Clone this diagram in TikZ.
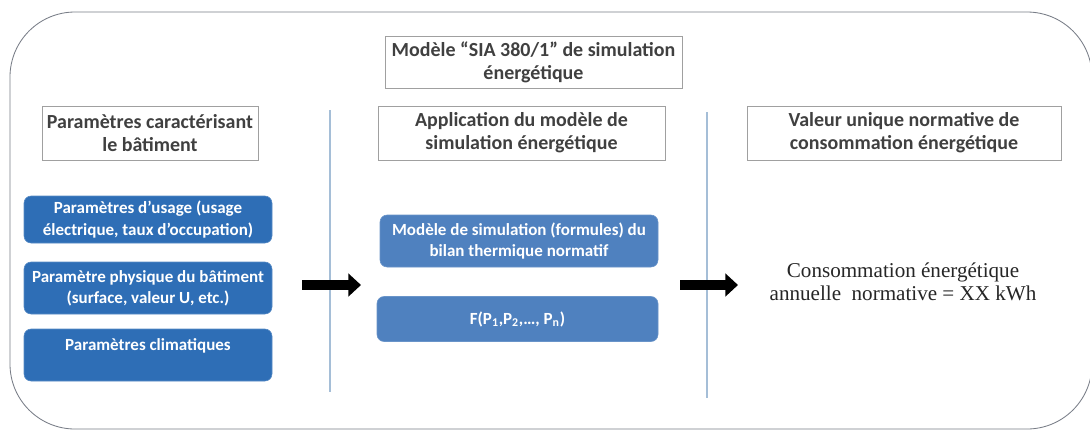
\documentclass[tikz,border=0pt]{standalone}
\usepackage{fontspec}
\setmainfont{Carlito}
\newfontfamily\resfont{Liberation Serif}
\usetikzlibrary{arrows.meta}

\definecolor{frameg}{RGB}{120,125,135}
\definecolor{hdrline}{RGB}{160,160,160}
\definecolor{hdrtext}{RGB}{64,64,64}
\definecolor{inblue}{RGB}{46,110,182}
\definecolor{mdblue}{RGB}{79,129,191}
\definecolor{sepline}{RGB}{165,190,215}

\tikzset{
  hdr/.style={draw=hdrline, line width=0.6pt, fill=white, text=hdrtext, align=center,
    font=\bfseries\fontsize{14.2}{16.4}\selectfont, inner sep=0pt},
  inbox/.style={fill=inblue, draw=inblue!80!white, rounded corners=5pt, text=white, align=center,
    font=\bfseries\fontsize{12.1}{15}\selectfont, inner sep=0pt, minimum width=248*0.025cm},
  mdbox/.style={inbox, fill=mdblue, draw=mdblue!85!white},
  bigarrow/.style={line width=6.5pt, -{Triangle[length=9pt, width=16pt]}}
}

\begin{document}
\begin{tikzpicture}[x=0.025cm, y=-0.025cm]
  \useasboundingbox (0,0) rectangle (1090,430);
  \fill[white] (0,0) rectangle (1090,430);
  \draw[frameg, line width=0.6pt, rounded corners=65*0.025cm] (10,12) rectangle (1092,429);

  % column separators
  \draw[sepline, line width=0.8pt] (330,110) -- (330,392);
  \draw[sepline, line width=0.8pt] (707,112) -- (707,398);

  % headers
  \node[hdr, minimum width=297*0.025cm, minimum height=52*0.025cm] (model) at (533.5,62)
    {Modèle “SIA 380/1” de simulation\\énergétique};
  \node[hdr, minimum width=216*0.025cm, minimum height=54*0.025cm] (hdrL) at (150,133)
    {Paramètres caractérisant\\le bâtiment};
  \node[hdr, minimum width=287*0.025cm, minimum height=54*0.025cm] (hdrM) at (521.5,133)
    {Application du modèle de\\simulation énergétique};
  \node[hdr, minimum width=314*0.025cm, minimum height=54*0.025cm] (hdrR) at (904,133)
    {Valeur unique normative de\\consommation énergétique};

  % input parameters
  \node[inbox, minimum height=47*0.025cm] (usage) at (148,219.5)
    {Paramètres d’usage (usage\\électrique, taux d’occupation)};
  \node[inbox, minimum height=52*0.025cm] (phys) at (148,288)
    {Paramètre physique du bâtiment\\(surface, valeur U, etc.)};
  \node[inbox, minimum height=52*0.025cm] (clim) at (148,355)
    {Paramètres climatiques\\~};

  % simulation model
  \node[mdbox, minimum width=278*0.025cm, minimum height=52*0.025cm] (simu) at (519,241)
    {Modèle de simulation (formules) du\\bilan thermique normatif};
  \node[mdbox, minimum width=281*0.025cm, minimum height=45*0.025cm] (func) at (517.5,319)
    {F(P\textsubscript{1},P\textsubscript{2},…, P\textsubscript{n})};

  % result
  \node[align=center, font=\resfont\fontsize{15}{16.6}\selectfont, text=black!85] (conso) at (903,282)
    {Consommation énergétique\\annuelle\ \ normative = XX kWh};

  \coordinate (a1s) at (302,285); \coordinate (a1e) at (361,285);
  \coordinate (a2s) at (680,285); \coordinate (a2e) at (738,285);
  \draw[bigarrow] (a1s) -- (a1e);
  \draw[bigarrow] (a2s) -- (a2e);
\end{tikzpicture}
\end{document}
